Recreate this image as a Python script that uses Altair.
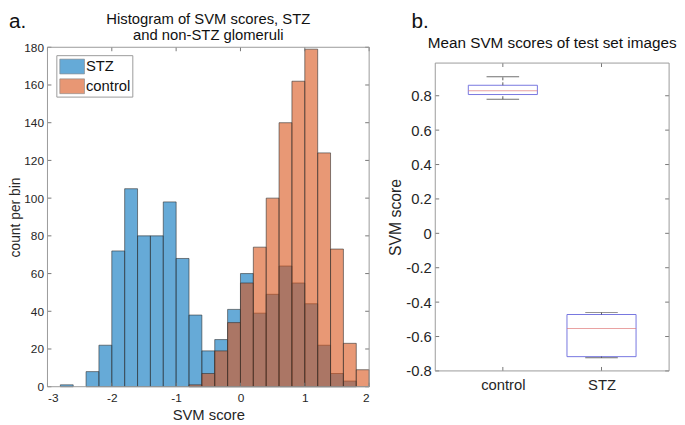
import altair as alt
import pandas as pd

# ---------------- panel a: histogram ----------------
bin_start = [-2.8, -2.6, -2.4, -2.2, -2.0, -1.8, -1.6, -1.4, -1.2, -1.0, -0.8, -0.6,
             -0.4, -0.2, 0.0, 0.2, 0.4, 0.6, 0.8, 1.0, 1.2, 1.4, 1.6, 1.8]
stz_counts = [1, 0, 8, 22, 72, 105, 80, 80, 98, 68, 38, 19,
              25, 41, 60, 39, 49, 64, 55, 44, 22, 7, 3, 0]
control_counts = [0, 0, 0, 0, 0, 0, 0, 0, 0, 0, 1, 7,
                  19, 34, 55, 74, 100, 140, 162, 179, 124, 73, 23, 9]
bin_width = 0.2
hist_x_ticks = [-3, -2, -1, 0, 1, 2]
hist_y_ticks = [0, 20, 40, 60, 80, 100, 120, 140, 160, 180]
hist_title = "Histogram of SVM scores, STZ\nand non-STZ glomeruli"

# ---------------- panel b: box plot ----------------
groups = ["control", "STZ"]
whisker_low = [0.780, -0.723]
q1 = [0.807, -0.717]
median = [0.829, -0.553]
q3 = [0.861, -0.472]
whisker_high = [0.911, -0.461]
box_y_ticks = [-0.8, -0.6, -0.4, -0.2, 0, 0.2, 0.4, 0.6, 0.8]
box_title = "Mean SVM scores of test set images"
box_y_range = [-0.8, 0.99]   # visible axis limits of panel b

rows = []
for name, counts in [("STZ", stz_counts), ("control", control_counts)]:
    for s, c in zip(bin_start, counts):
        if c > 0:
            rows.append({"group": name, "start": s, "end": round(s + bin_width, 2),
                         "count": c, "base": 0})
hist = pd.DataFrame(rows)

W1, H1 = 326, 344
W2 = 237
TOP2 = 16          # panel b frame starts this far below panel a's frame
FH2 = 312          # panel b frame height
H2 = H1
BOT2 = TOP2 + FH2
TXT = "#262626"
TICK = "#777777"
FRAME = "#9a9a9a"

hx = alt.X("start:Q", scale=alt.Scale(domain=[-3, 2], nice=False, zero=False),
           axis=alt.Axis(values=hist_x_ticks, title="SVM score", grid=False, ticks=False,
                         domain=False, labelExpr="'' + datum.value", labelFontSize=12,
                         labelPadding=6, titleFontSize=15, titlePadding=4,
                         titleFontWeight="normal", labelColor=TXT, titleColor=TXT))
hy = alt.Y("count:Q", stack=None, scale=alt.Scale(domain=[0, 180], nice=False),
           axis=alt.Axis(values=hist_y_ticks, title="count per bin", grid=False, ticks=False,
                         domain=False, labelFontSize=12, labelPadding=4, titleFontSize=14,
                         titlePadding=1, titleFontWeight="normal", labelColor=TXT, titleColor=TXT))

bars = alt.Chart(hist).mark_bar(fillOpacity=0.6, stroke="#303030", strokeWidth=0.6).encode(
    x=hx, x2="end:Q", y=hy, y2="base:Q",
    color=alt.Color("group:N",
                    scale=alt.Scale(domain=["STZ", "control"], range=["#0072BD", "#D95319"]),
                    legend=alt.Legend(title=None, orient="none", legendX=9, legendY=8,
                                      symbolType="M-1.25,-0.75H1.25V0.75H-1.25Z", symbolSize=400,
                                      symbolOpacity=0.6, symbolStrokeColor="#303030",
                                      symbolStrokeWidth=0.6, symbolOffset=4.5, labelOffset=3.5,
                                      labelFontSize=15, labelColor="#111", padding=1, rowPadding=0,
                                      strokeColor=FRAME, fillColor="white")),
)

xt = pd.DataFrame({"start": hist_x_ticks})
yt = pd.DataFrame({"count": hist_y_ticks})
h_xb = alt.Chart(xt).mark_rule(color=TICK).encode(x=hx, y=alt.value(H1), y2=alt.value(H1 - 4))
h_xt = alt.Chart(xt).mark_rule(color=TICK).encode(x=hx, y=alt.value(0), y2=alt.value(4))
h_yl = alt.Chart(yt).mark_rule(color=TICK).encode(y=hy, x=alt.value(0), x2=alt.value(4))
h_yr = alt.Chart(yt).mark_rule(color=TICK).encode(y=hy, x=alt.value(W1 - 4), x2=alt.value(W1))
h_frame = alt.Chart(pd.DataFrame({"f": [0]})).mark_rect(fill=None, stroke=FRAME, strokeWidth=1).encode(
    x=alt.value(0), x2=alt.value(W1), y=alt.value(0), y2=alt.value(H1))
lab_a = alt.Chart(pd.DataFrame({"t": ["a."]})).mark_text(
    align="left", baseline="alphabetic", fontSize=21, color="#111").encode(
    text="t:N", x=alt.value(-39), y=alt.value(-20))
ttl_a = alt.Chart(pd.DataFrame({"t": [hist_title]})).mark_text(
    align="center", baseline="alphabetic", fontSize=15, color="#111", lineBreak="\n",
    lineHeight=17).encode(text="t:N", x=alt.value(W1 / 2), y=alt.value(-24))

left = alt.layer(bars, h_xb, h_xt, h_yl, h_yr, h_frame, lab_a, ttl_a).properties(
    width=W1, height=H1)

# ---------------- panel b ----------------
box = pd.DataFrame({"group": groups, "wl": whisker_low, "q1": q1, "med": median,
                    "q3": q3, "wh": whisker_high})
# extend the scale so that the visible limits land on the panel-b frame
ppu = FH2 / (box_y_range[1] - box_y_range[0])
ydom = [box_y_range[0] - (H2 - BOT2) / ppu, box_y_range[1] + TOP2 / ppu]

xenc = alt.X("group:N", scale=alt.Scale(type="point", domain=groups, padding=0.685),
             axis=alt.Axis(title=None, labelAngle=0, ticks=False, domain=False, grid=False,
                           labelFontSize=15, labelPadding=7, offset=-(H2 - BOT2),
                           labelColor=TXT))
yscale = alt.Scale(domain=ydom, nice=False, zero=False)
yaxis = alt.Axis(values=box_y_ticks, title="SVM score", grid=False, ticks=False, domain=False,
                 labelExpr="'' + datum.value", labelFontSize=15, labelPadding=4, titleFontSize=16,
                 titlePadding=2, titleFontWeight="normal", labelColor=TXT, titleColor=TXT)

base = alt.Chart(box)
wl_rule = base.mark_rule(color="#333", strokeDash=[3, 2], strokeWidth=0.8).encode(
    x=xenc, y=alt.Y("wl:Q", scale=yscale, axis=yaxis), y2="q1:Q")
wh_rule = base.mark_rule(color="#333", strokeDash=[3, 2], strokeWidth=0.8).encode(
    x=xenc, y=alt.Y("q3:Q", scale=yscale, axis=yaxis), y2="wh:Q")
cap_lo = base.mark_tick(color="#333", size=33, thickness=1).encode(
    x=xenc, y=alt.Y("wl:Q", scale=yscale, axis=yaxis))
cap_hi = base.mark_tick(color="#333", size=33, thickness=1).encode(
    x=xenc, y=alt.Y("wh:Q", scale=yscale, axis=yaxis))
boxes = base.mark_bar(size=70, fill="white", fillOpacity=0, stroke="#7676e0", strokeWidth=1).encode(
    x=xenc, y=alt.Y("q1:Q", scale=yscale, axis=yaxis), y2="q3:Q")
meds = base.mark_tick(color="#e07a7a", size=70, thickness=1).encode(
    x=xenc, y=alt.Y("med:Q", scale=yscale, axis=yaxis))

gt = pd.DataFrame({"group": groups})
bt = pd.DataFrame({"v": box_y_ticks})
b_xb = alt.Chart(gt).mark_rule(color=TICK).encode(x=xenc, y=alt.value(BOT2), y2=alt.value(BOT2 - 4))
b_xt = alt.Chart(gt).mark_rule(color=TICK).encode(x=xenc, y=alt.value(TOP2), y2=alt.value(TOP2 + 4))
b_yl = alt.Chart(bt).mark_rule(color=TICK).encode(y=alt.Y("v:Q", scale=yscale, axis=yaxis),
                                                  x=alt.value(0), x2=alt.value(4))
b_yr = alt.Chart(bt).mark_rule(color=TICK).encode(y=alt.Y("v:Q", scale=yscale, axis=yaxis),
                                                  x=alt.value(W2 - 4), x2=alt.value(W2))
b_frame = alt.Chart(pd.DataFrame({"f": [0]})).mark_rect(fill=None, stroke=FRAME, strokeWidth=1).encode(
    x=alt.value(0), x2=alt.value(W2), y=alt.value(TOP2), y2=alt.value(BOT2))
lab_b = alt.Chart(pd.DataFrame({"t": ["b."]})).mark_text(
    align="left", baseline="alphabetic", fontSize=21, color="#111").encode(
    text="t:N", x=alt.value(-24), y=alt.value(-20))
ttl_b = alt.Chart(pd.DataFrame({"t": [box_title]})).mark_text(
    align="center", baseline="alphabetic", fontSize=15.5, color="#111").encode(
    text="t:N", x=alt.value(W2 / 2), y=alt.value(TOP2 - 15))

right = alt.layer(boxes, wl_rule, wh_rule, cap_lo, cap_hi, meds, b_xb, b_xt, b_yl, b_yr,
                  b_frame, lab_b, ttl_b).properties(width=W2, height=H2)

chart = alt.hconcat(left, right, spacing=18).properties(padding=0).configure(
    font="Liberation Sans").configure_view(stroke=None)

chart.save("out.html", embed_options={"renderer": "svg", "actions": False})
